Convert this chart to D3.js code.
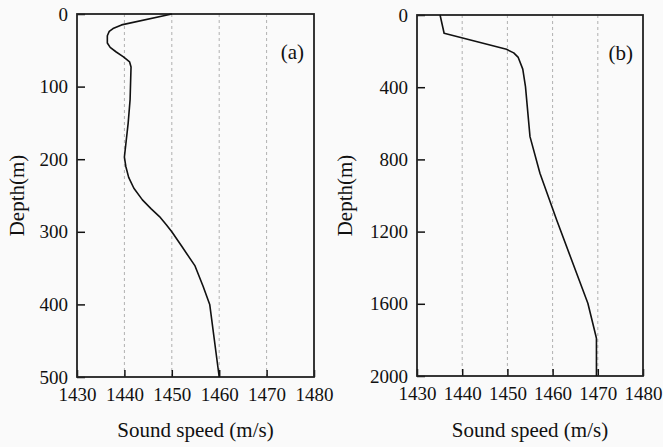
<!DOCTYPE html>
<html>
<head>
<meta charset="utf-8">
<script src="https://cdn.jsdelivr.net/npm/d3@7"></script>
<style>
  body { margin: 0; background: #fafafa; }
  svg text { font-family: 'Liberation Serif', Tinos, 'Times New Roman', Times, 'DejaVu Serif', serif !important; fill: #111; }
</style>
</head>
<body>
<div id="chart"></div>
<script>
// panel (a) profile
var depthA = [0, 15, 20, 24, 30, 40, 46, 52, 59, 66, 73, 118, 150, 197, 210, 225, 240, 256, 268, 279, 290, 300, 320, 347, 375, 400, 500];
var speedA = [1450, 1439.4, 1437.6, 1436.8, 1436.4, 1436.4, 1437, 1438.2, 1439.8, 1441.1, 1441.4, 1441.2, 1440.8, 1440, 1440.3, 1440.9, 1442, 1443.8, 1445.6, 1447.4, 1448.8, 1450, 1452.1, 1454.9, 1456.6, 1458, 1460];

// panel (b) profile
var depthB = [0, 101, 190, 210, 235, 300, 397, 674, 877, 1136, 1597, 1791, 2000];
var speedB = [1435.1, 1436.0, 1449.8, 1451.4, 1452.4, 1453.4, 1454.0, 1455.0, 1457.2, 1460.9, 1467.8, 1469.7, 1469.7];

var speedTicks = [1430, 1440, 1450, 1460, 1470, 1480];
var gridTicks = [1440, 1450, 1460, 1470];
var depthTicksA = [0, 100, 200, 300, 400, 500];
var depthTicksB = [0, 400, 800, 1200, 1600, 2000];

var svg = d3.select("#chart").append("svg")
  .attr("width", 663)
  .attr("height", 447);

function drawPanel(opt) {
  var x = d3.scaleLinear().domain([1430, 1480]).range([opt.left, opt.right]);
  var y = d3.scaleLinear().domain([0, opt.maxDepth]).range([opt.top, opt.bottom]);
  var g = svg.append("g");

  // dashed grid lines
  g.selectAll(".grid")
    .data(gridTicks)
    .enter().append("line")
    .attr("x1", function(d) { return x(d); })
    .attr("x2", function(d) { return x(d); })
    .attr("y1", opt.top)
    .attr("y2", opt.bottom)
    .attr("stroke", "#b0b0b0")
    .attr("stroke-width", 1)
    .attr("stroke-dasharray", "3,3");

  // x axis, ticks pointing inward
  var xa = g.append("g")
    .attr("transform", "translate(0," + opt.bottom + ")")
    .call(d3.axisBottom(x).tickValues(speedTicks).tickSizeInner(-7).tickSizeOuter(0).tickPadding(11).tickFormat(d3.format("d")));
  xa.attr("font-family", null);
  xa.select(".domain").remove();
  xa.selectAll("line").attr("stroke", "#111").attr("stroke-width", 1.5);
  xa.selectAll("text").style("font-size", "19px");

  // y axis, ticks pointing inward
  var ya = g.append("g")
    .attr("transform", "translate(" + opt.left + ",0)")
    .call(d3.axisLeft(y).tickValues(opt.depthTicks).tickSizeInner(-8).tickSizeOuter(0).tickPadding(9).tickFormat(d3.format("d")));
  ya.attr("font-family", null);
  ya.select(".domain").remove();
  ya.selectAll("line").attr("stroke", "#111").attr("stroke-width", 1.5);
  ya.selectAll("text").style("font-size", "19px");

  // frame
  g.append("rect")
    .attr("x", opt.left)
    .attr("y", opt.top)
    .attr("width", opt.right - opt.left)
    .attr("height", opt.bottom - opt.top)
    .attr("fill", "none")
    .attr("stroke", "#222")
    .attr("stroke-width", 1.8);

  // profile line
  var pts = opt.depth.map(function(d, i) { return [opt.speed[i], d]; });
  g.append("path")
    .datum(pts)
    .attr("fill", "none")
    .attr("stroke", "#111")
    .attr("stroke-width", 1.6)
    .attr("stroke-linejoin", "round")
    .attr("d", d3.line()
      .x(function(d) { return x(d[0]); })
      .y(function(d) { return y(d[1]); }));

  // titles
  g.append("text")
    .attr("x", (opt.left + opt.right) / 2)
    .attr("y", 437)
    .attr("text-anchor", "middle")
    .style("font-size", "21px")
    .text("Sound speed (m/s)");

  g.append("text")
    .attr("transform", "translate(" + opt.yTitleX + "," + ((opt.top + opt.bottom) / 2) + ") rotate(-90)")
    .attr("text-anchor", "middle")
    .style("font-size", "21px")
    .text("Depth(m)");

  g.append("text")
    .attr("x", opt.right - 10)
    .attr("y", opt.top + 45)
    .attr("text-anchor", "end")
    .style("font-size", "21px")
    .text(opt.label);
}

drawPanel({ left: 77, right: 314, top: 14, bottom: 377, maxDepth: 500,
  depth: depthA, speed: speedA, depthTicks: depthTicksA, yTitleX: 24, label: "(a)" });
drawPanel({ left: 417, right: 643, top: 15, bottom: 376, maxDepth: 2000,
  depth: depthB, speed: speedB, depthTicks: depthTicksB, yTitleX: 352, label: "(b)" });
</script>
</body>
</html>
